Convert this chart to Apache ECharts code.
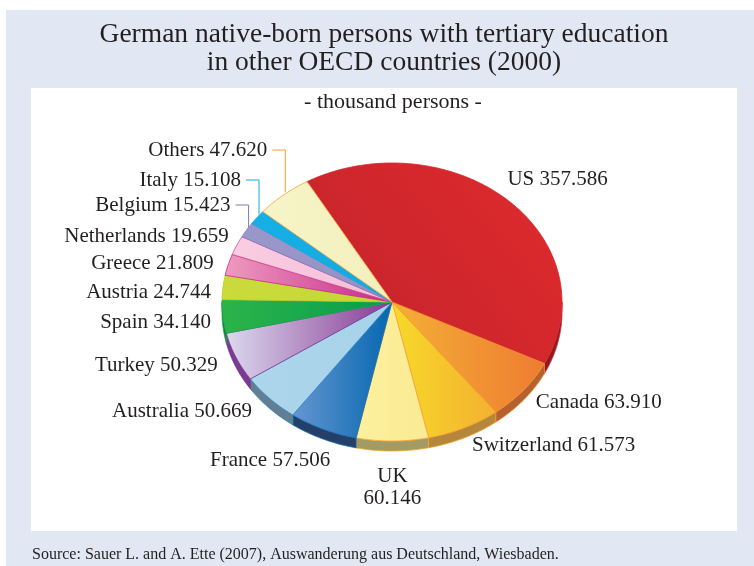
<!DOCTYPE html>
<html>
<head>
<meta charset="utf-8">
<script src="https://cdn.jsdelivr.net/npm/echarts@6/dist/echarts.min.js"></script>
<style>
  html, body { margin: 0; padding: 0; background: #fff; }
  #main { width: 754px; height: 566px; }
</style>
</head>
<body>
<div id="main"></div>
<script>
// data (thousand persons)
var countries = ['US', 'Canada', 'Switzerland', 'UK', 'France', 'Australia', 'Turkey',
                 'Spain', 'Austria', 'Greece', 'Netherlands', 'Belgium', 'Italy', 'Others'];
var values = [357.586, 63.910, 61.573, 60.146, 57.506, 50.669, 50.329,
              34.140, 24.744, 21.809, 19.659, 15.423, 15.108, 47.620];

// slice colours: [left, right] of the top face, the side wall and the edge line
var faceColors = [
    ['#c1232b', '#e02b2d'], ['#f4b036', '#ee7c31'], ['#f8d92a', '#f3b130'], ['#fcf19e', '#fbea93'],
    ['#6696d1', '#0467b0'], ['#add6eb', '#a8d2e9'], ['#dcd9ee', '#873a94'], ['#2cb44a', '#069d4d'],
    ['#cbdb3c', '#c3d734'], ['#ee9bbf', '#c4288a'], ['#f9cde1', '#f5bed7'], ['#9a98ca', '#9491c5'],
    ['#16b0e6', '#10aae2'], ['#f7f4c8', '#f3efbc']
];
var wallColors = ['#8e1a22', '#b5602f', '#b5873b', '#a29b63', '#243f68', '#637e90', '#7b3a91',
                  '#1e7a3a', '#8d9a2a', '#9a2a6a', '#c08aa5', '#6a689a', '#0e7ea8', '#b5b08a'];
var edgeColors = ['#d3282d', '#f08a2c', '#f29a2a', '#f5a431', '#1d6db3', '#2b86c6', '#7f3a94',
                  '#16a34a', '#b9cc2c', '#c8288a', '#d9438f', '#7d7bbb', '#12a8de', '#f5a030'];

// pie geometry (tilted disc)
var CX = 392, CY = 302, RX = 170, RY = 139, DEPTH = 10, START = -30;
var FONT = '"Liberation Serif", "Times New Roman", serif';
// small hand tweaks of label anchors and the callout rows on the upper left
var labelNudge = {
    'US': [-9, -12], 'Canada': [3, -2], 'Switzerland': [3, -2], 'France': [12, 11],
    'Australia': [-9, -2], 'Turkey': [-7, 0], 'Spain': [0, 4], 'Austria': [0, 6],
    'Greece': [-3, 2], 'Netherlands': [3, -4]
};
var calloutRows = { 'Others': 150, 'Italy': 180, 'Belgium': 205 };

var total = values.reduce(function (s, v) { return s + v; }, 0);
var slices = [];
var acc = START;
values.forEach(function (v) {
    var span = v / total * 360;
    slices.push({ a: acc, b: acc + span, mid: acc + span / 2 });
    acc += span;
});

function pt(deg, dy, grow) {
    var r = deg * Math.PI / 180;
    grow = grow || 0;
    return [CX + (RX + grow) * Math.sin(r), CY - (RY + grow) * Math.cos(r) + (dy || 0)];
}
function arc(a, b, dy) {
    var pts = [];
    var n = Math.max(2, Math.ceil(Math.abs(b - a)));
    for (var k = 0; k <= n; k++) pts.push(pt(a + (b - a) * k / n, dy));
    return pts;
}

function renderSlice(params, api) {
    var i = params.dataIndex;
    var s = slices[i];
    var name = countries[i];
    var txt = name + ' ' + api.value(1).toFixed(3);
    var children = [];

    // side wall, only the front half shows
    var lo = Math.max(s.a, 90), hi = Math.min(s.b, 270);
    if (lo < hi) {
        children.push({
            type: 'polygon',
            shape: { points: arc(lo, hi, 0).concat(arc(hi, lo, DEPTH)) },
            style: { fill: wallColors[i], stroke: edgeColors[i], lineWidth: 0.8 }
        });
    }
    // top face
    children.push({
        type: 'polygon',
        shape: { points: [[CX, CY]].concat(arc(s.a, s.b, 0)) },
        style: {
            fill: {
                type: 'linear', x: 0, y: (i === 0 ? 1 : 0), x2: 1, y2: 0,
                colorStops: [{ offset: 0, color: faceColors[i][0] }, { offset: 1, color: faceColors[i][1] }]
            },
            stroke: edgeColors[i], lineWidth: 0.8
        }
    });

    // label
    var r = s.mid * Math.PI / 180;
    var sin = Math.sin(r), cos = Math.cos(r);
    var style = { fill: '#231f20', font: '21px ' + FONT, lineHeight: 22 };
    var lx, ly;
    if (calloutRows[name] !== undefined) {
        var edge = pt(s.mid, 0, 0);
        var ex = edge[0] + 2;
        ly = calloutRows[name];
        lx = ex - 18;
        style.align = 'right';
        style.verticalAlign = 'middle';
        children.push({
            type: 'polyline',
            shape: { points: [[lx + 5, ly], [ex, ly], [ex, edge[1] - 3]] },
            style: { stroke: edgeColors[i], lineWidth: 1, fill: null }
        });
    } else {
        var p = pt(s.mid, cos < 0 ? -cos * DEPTH : 0, 12);
        lx = p[0]; ly = p[1];
        if (Math.abs(sin) < 0.15 && cos < 0) {
            txt = name + '\n' + api.value(1).toFixed(3);
            style.align = 'center';
            style.verticalAlign = 'top';
            ly += 2;
        } else {
            style.align = sin < 0 ? 'right' : 'left';
            style.verticalAlign = 'middle';
        }
        var nd = labelNudge[name] || [0, 0];
        lx += nd[0]; ly += nd[1];
    }
    style.text = txt;
    children.push({ type: 'text', x: lx, y: ly, style: style });

    return { type: 'group', children: children };
}

var chart = echarts.init(document.getElementById('main'));
var option = {
    backgroundColor: '#ffffff',
    animation: false,
    graphic: [
        { type: 'rect', shape: { x: 6, y: 10, width: 748, height: 556 }, style: { fill: '#e1e8f3' }, z: -10 },
        { type: 'rect', shape: { x: 31, y: 88, width: 706, height: 443 }, style: { fill: '#ffffff' }, z: -9 },
        { type: 'text', x: 384, y: 35, style: { text: 'German native-born persons with tertiary education', font: '27.5px ' + FONT, fill: '#231f20', align: 'center', verticalAlign: 'middle' } },
        { type: 'text', x: 384, y: 63, style: { text: 'in other OECD countries (2000)', font: '27.5px ' + FONT, fill: '#231f20', align: 'center', verticalAlign: 'middle' } },
        { type: 'text', x: 393, y: 102, style: { text: '- thousand persons -', font: '22px ' + FONT, fill: '#231f20', align: 'center', verticalAlign: 'middle' } },
        { type: 'text', x: 32, y: 555, style: { text: 'Source: Sauer L. and A. Ette (2007), Auswanderung aus Deutschland, Wiesbaden.', font: '16px ' + FONT, fill: '#231f20', align: 'left', verticalAlign: 'middle' } }
    ],
    series: [{
        type: 'custom',
        coordinateSystem: 'none',
        renderItem: renderSlice,
        data: values.map(function (v, i) { return [i, v]; })
    }]
};
chart.setOption(option);
</script>
</body>
</html>
